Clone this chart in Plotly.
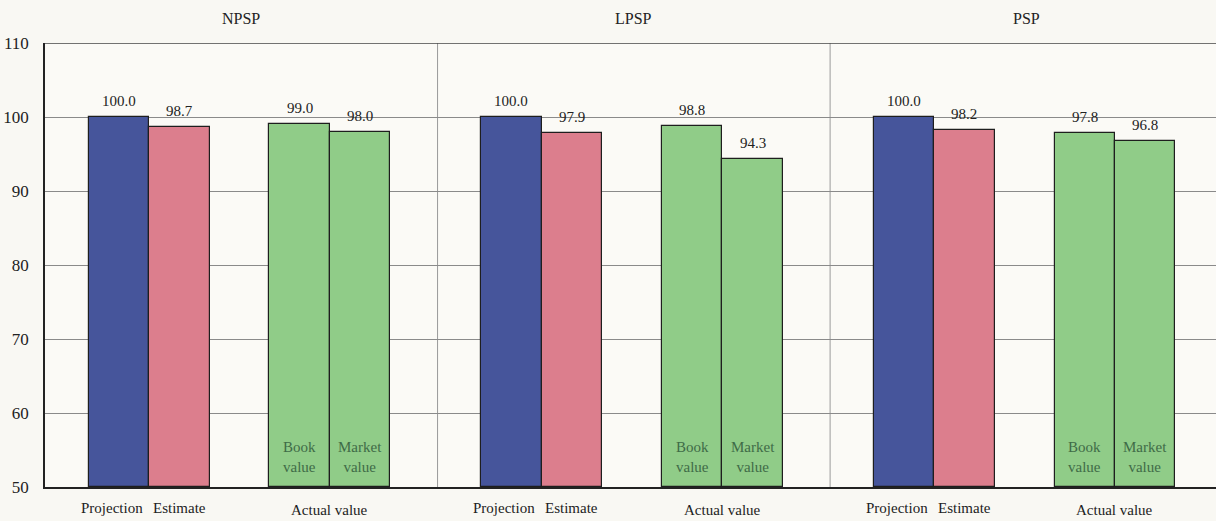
import plotly.graph_objects as go

panels = ["NPSP", "LPSP", "PSP"]
projection = [100.0, 100.0, 100.0]
estimate = [98.7, 97.9, 98.2]
book_value = [99.0, 98.8, 97.8]
market_value = [98.0, 94.3, 96.8]
x_labels_left = ["Projection", "Estimate"]
x_label_actual = "Actual value"
inside_labels = ["Book<br>value", "Market<br>value"]
y_ticks = [50, 60, 70, 80, 90, 100, 110]

PANEL_W = 6.49
OFFSETS = [1.22, 2.22, 4.21, 5.21]
LABEL_XSHIFT = [-7, 0]
COLORS = ["#46559b", "#dc7e8d", "#90cc88", "#90cc88"]
FONT = "Liberation Serif"

series = [projection, estimate, book_value, market_value]

fig = go.Figure()
for si, vals in enumerate(series):
    xs = [p * PANEL_W + OFFSETS[si] for p in range(len(panels))]
    fig.add_trace(go.Bar(
        x=xs, y=[v - 50 for v in vals], base=50, width=1.0,
        marker=dict(color=COLORS[si], line=dict(color="#1e1e1e", width=1.2)),
        showlegend=False, hoverinfo="skip",
    ))
    for p, v in enumerate(vals):
        fig.add_annotation(x=xs[p], y=v, text=f"{v:.1f}", showarrow=False,
                           yanchor="bottom", yshift=6,
                           font=dict(family=FONT, size=15, color="#222"))
        if si >= 2:
            fig.add_annotation(x=xs[p], y=50, text=inside_labels[si - 2], showarrow=False,
                               yanchor="bottom", yshift=10,
                               font=dict(family=FONT, size=15, color="#3f6b47"))

for p, name in enumerate(panels):
    start = p * PANEL_W
    fig.add_annotation(x=start + PANEL_W / 2, y=1, yref="paper", text=name, showarrow=False,
                       yanchor="bottom", yshift=14,
                       font=dict(family=FONT, size=16, color="#222"))
    for i, lab in enumerate(x_labels_left):
        fig.add_annotation(x=start + OFFSETS[i], y=0, yref="paper", text=lab, showarrow=False,
                           yanchor="top", yshift=-11, xshift=LABEL_XSHIFT[i],
                           font=dict(family=FONT, size=15, color="#222"))
    fig.add_annotation(x=start + (OFFSETS[2] + OFFSETS[3]) / 2, y=0, yref="paper",
                       text=x_label_actual, showarrow=False, yanchor="top", yshift=-13,
                       font=dict(family=FONT, size=15, color="#222"))
    if p > 0:
        fig.add_shape(type="line", x0=start, x1=start, y0=50, y1=110,
                      line=dict(color="#9a9a9a", width=1), layer="below")

fig.add_shape(type="line", xref="paper", x0=0, x1=1, y0=110, y1=110,
              line=dict(color="#444", width=1.5))

fig.update_layout(
    width=1216, height=521,
    margin=dict(l=45, r=0, t=43, b=34),
    paper_bgcolor="#f9f8f3", plot_bgcolor="#fbfaf6",
    barmode="overlay", bargap=0,
    font=dict(family=FONT, size=14, color="#222"),
)
fig.update_xaxes(range=[0, 19.36], showticklabels=False, showgrid=False, zeroline=False,
                 showline=True, linecolor="#222", linewidth=1.5)
fig.update_yaxes(range=[50, 110], tickvals=y_ticks, showgrid=True, gridcolor="#8a8a8a",
                 gridwidth=1, zeroline=False, showline=True, linecolor="#222", linewidth=1.5,
                 ticks="", ticklabelstandoff=11, tickfont=dict(family=FONT, size=17, color="#222"))

fig.write_html("out.html", config={"displayModeBar": False},
               post_script="document.body.style.margin='0';document.body.style.overflow='hidden';document.body.style.background='#f9f8f3';")
